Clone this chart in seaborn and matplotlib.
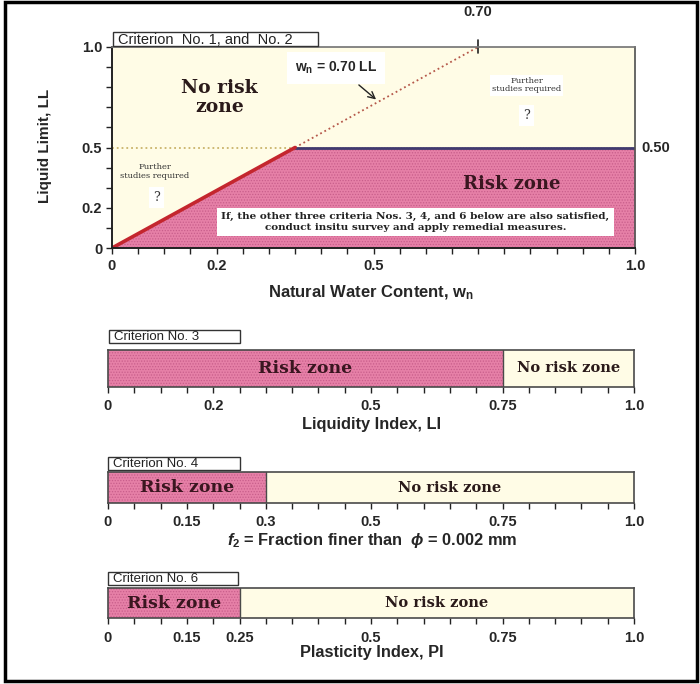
import matplotlib
matplotlib.use('Agg')
import matplotlib.pyplot as plt
from matplotlib.patches import Rectangle
from matplotlib.ticker import MultipleLocator
import seaborn as sns

sns.set_theme(style='white')
plt.rcParams['font.family'] = ['Liberation Sans', 'DejaVu Sans']
plt.rcParams['mathtext.fontset'] = 'custom'
plt.rcParams['mathtext.rm'] = 'Liberation Sans:bold'
plt.rcParams['mathtext.bf'] = 'Liberation Sans:bold'
plt.rcParams['mathtext.it'] = 'Liberation Sans:italic:bold'
plt.rcParams['hatch.linewidth'] = 0.6

### Data
# criterion 1 and 2 : LL vs wn
wn_slope = [0, 0.35]        # wn = 0.70 LL, up to LL = 0.5
ll_slope = [0, 0.5]
wn_flat = [0.35, 1.0]
ll_flat = [0.5, 0.5]
wn_ext = [0.35, 0.70]       # dotted continuation of wn = 0.70 LL
ll_ext = [0.5, 1.0]
wn_half = [0, 0.35]         # dotted LL = 0.5 on the left
ll_half = [0.5, 0.5]
top_xticks = [0, 0.2, 0.5, 1.0]
top_xlabels = ['0', '0.2', '0.5', '1.0']
top_yticks = [0, 0.2, 0.5, 1.0]
top_ylabels = ['0', '0.2', '0.5', '1.0']

# criteria 3, 4, 6 : one bar each
crit_names = ['Criterion No. 3', 'Criterion No. 4', 'Criterion No. 6']
crit_limits = [0.75, 0.30, 0.25]
crit_xlabels = ['Liquidity Index, LI',
                r'$f_2$ = Fraction finer than  $\phi$ = 0.002 mm',
                'Plasticity Index, PI']
crit_ticks = [[0, 0.2, 0.5, 0.75, 1.0],
              [0, 0.15, 0.3, 0.5, 0.75, 1.0],
              [0, 0.15, 0.25, 0.5, 0.75, 1.0]]
crit_ticklabels = [['0', '0.2', '0.5', '0.75', '1.0'],
                   ['0', '0.15', '0.3', '0.5', '0.75', '1.0'],
                   ['0', '0.15', '0.25', '0.5', '0.75', '1.0']]

pink = '#e680a7'
dots = '#c85e8b'
cream = '#fffce6'
edge = '#4a4a4a'
serif = ['DejaVu Serif', 'Liberation Serif']

W, H = 700, 684
def fx(px):
    return px / W
def fy(py):
    return 1 - py / H

fig = plt.figure(figsize=(7, 6.84), dpi=100)
fig.patch.set_facecolor('white')

#%% top chart
ax = fig.add_axes([fx(112), fy(248), fx(635) - fx(112), fy(47) - fy(248)])
ax.set_facecolor(cream)
risk_x = wn_slope + wn_flat[1:]
risk_y = ll_slope + ll_flat[1:]
ax.fill_between(risk_x, risk_y, 0, facecolor=pink, linewidth=0)
ax.fill_between(risk_x, risk_y, 0, facecolor='none', edgecolor=dots, hatch='......', linewidth=0)
sns.lineplot(x=wn_half, y=ll_half, color='#c9b36a', linestyle=':', linewidth=1.3, ax=ax)
sns.lineplot(x=wn_ext, y=ll_ext, color='#b5584a', linestyle=':', linewidth=1.3, ax=ax)
sns.lineplot(x=wn_flat, y=ll_flat, color='#3f3a6e', linewidth=2, ax=ax)
sns.lineplot(x=wn_slope, y=ll_slope, color='#c4262e', linewidth=2.6, ax=ax)
ax.set_xlim(0, 1)
ax.set_ylim(0, 1)
ax.set_xticks(top_xticks)
ax.set_xticklabels(top_xlabels)
ax.set_yticks(top_yticks)
ax.set_yticklabels(top_ylabels)
ax.xaxis.set_minor_locator(MultipleLocator(0.05))
ax.yaxis.set_minor_locator(MultipleLocator(0.1))
ax.tick_params(which='both', bottom=True, left=True, direction='out', length=4, width=1, color='#222')
ax.tick_params(axis='x', pad=4)
ax.tick_params(axis='y', pad=3)
for lab in ax.get_xticklabels() + ax.get_yticklabels():
    lab.set_fontsize(10.5)
    lab.set_fontweight('bold')
for s in ['left', 'bottom']:
    ax.spines[s].set_color('#222')
    ax.spines[s].set_linewidth(1.4)
ax.spines['top'].set_color('#777')
ax.spines['right'].set_color('#555')
ax.set_xlabel('')
ax.set_ylabel('')

# 0.70 mark on the top
ax.plot([0.70, 0.70], [0.97, 1.035], color='#222', lw=1.2, clip_on=False)
ax.text(0.70, 1.175, '0.70', ha='center', va='center', fontsize=10.5, fontweight='bold')
ax.text(1.012, 0.5, '0.50', ha='left', va='center', fontsize=10.5, fontweight='bold')

ax.text(0.206, 0.75, 'No risk\nzone', ha='center', va='center', fontsize=13.5, fontweight='bold',
        family=serif, color='#2a1a1a', linespacing=1.1)
ax.text(0.765, 0.32, 'Risk zone', ha='center', va='center', fontsize=13, fontweight='bold',
        family=serif, color='#3a1620')
ax.text(0.082, 0.38, 'Further\nstudies required', ha='center', va='center', fontsize=6,
        family=serif, color='#333', linespacing=1.1)
ax.text(0.085, 0.25, '?', ha='center', va='center', fontsize=9, family=serif, color='#333',
        bbox=dict(facecolor='white', edgecolor='none', pad=3))
ax.text(0.793, 0.81, 'Further\nstudies required', ha='center', va='center', fontsize=6,
        family=serif, color='#333', linespacing=1.1,
        bbox=dict(facecolor='white', edgecolor='none', pad=1.5))
ax.text(0.793, 0.66, '?', ha='center', va='center', fontsize=9, family=serif, color='#333',
        bbox=dict(facecolor='white', edgecolor='none', pad=3))
ax.text(0.428, 0.895, r'$\mathrm{w}_\mathrm{n}$ = 0.70 LL', ha='center', va='center',
        fontsize=10, fontweight='bold',
        bbox=dict(boxstyle='square,pad=0.55', facecolor='white', edgecolor='none'))
ax.annotate('', xy=(0.509, 0.73), xytext=(0.468, 0.82),
            arrowprops=dict(arrowstyle='->', color='#222', lw=1))
ax.text(0.58, 0.13, 'If, the other three criteria Nos. 3, 4, and 6 below are also satisfied,\n'
        'conduct insitu survey and apply remedial measures.', ha='center', va='center',
        fontsize=7.5, fontweight='bold', family=serif, color='#222', linespacing=1.3,
        bbox=dict(boxstyle='square,pad=0.4', facecolor='white', edgecolor='none'))

fig.text(fx(371), fy(293), r'Natural Water Content, $\mathrm{w}_\mathrm{n}$', ha='center',
         va='center', fontsize=12, fontweight='bold')
fig.text(fx(45), fy(146), 'Liquid Limit, LL', ha='center', va='center', rotation=90,
         fontsize=11, fontweight='bold')

#%% bars for criteria 3, 4, 6
bar_rows = [(350, 387), (472, 503), (588, 618)]
label_rows = [424, 540, 653]
for i, name in enumerate(crit_names):
    top, bot = bar_rows[i]
    bx = fig.add_axes([fx(108), fy(bot), fx(634) - fx(108), fy(top) - fy(bot)])
    sns.barplot(x=[1.0], y=[name], orient='h', color=cream, width=1, saturation=1,
                linewidth=0, ax=bx)
    sns.barplot(x=[crit_limits[i]], y=[name], orient='h', color=pink, width=1, saturation=1,
                linewidth=0, ax=bx)
    bx.barh(0, crit_limits[i], height=1, facecolor='none', edgecolor=dots, hatch='......',
            linewidth=0)
    bx.axvline(crit_limits[i], color=edge, lw=1)
    bx.set_xlim(0, 1)
    bx.set_ylim(0.5, -0.5)
    bx.set_yticks([])
    bx.set_xticks(crit_ticks[i])
    bx.set_xticklabels(crit_ticklabels[i])
    bx.xaxis.set_minor_locator(MultipleLocator(0.05))
    bx.tick_params(which='both', bottom=True, direction='out', length=4, width=1, color='#222')
    bx.tick_params(axis='x', pad=5)
    for lab in bx.get_xticklabels():
        lab.set_fontsize(10.5)
        lab.set_fontweight('bold')
    for s in bx.spines.values():
        s.set_color(edge)
        s.set_linewidth(1.2)
    bx.set_xlabel('')
    bx.set_ylabel('')
    bx.text(crit_limits[i] / 2, 0, 'Risk zone', ha='center', va='center', fontsize=12.5,
            fontweight='bold', family=serif, color='#3a1620')
    bx.text((1 + crit_limits[i]) / 2, 0, 'No risk zone', ha='center', va='center', fontsize=10.5,
            fontweight='bold', family=serif, color='#2a1a1a')
    fig.text(fx(372), fy(label_rows[i]), crit_xlabels[i], ha='center', va='center',
             fontsize=11.8, fontweight='bold')

# criterion tag boxes
tags = ['Criterion  No. 1, and  No. 2'] + crit_names
tag_sizes = [10.5, 9.5, 9.5, 9.5]
tag_boxes = [(113, 318, 32, 46), (109, 240, 330, 343), (108, 240, 457, 470), (108, 238, 572, 585)]
for tag, size, (x0, x1, y0, y1) in zip(tags, tag_sizes, tag_boxes):
    fig.add_artist(Rectangle((fx(x0), fy(y1)), fx(x1) - fx(x0), fy(y0) - fy(y1),
                             transform=fig.transFigure, facecolor='white',
                             edgecolor='#333', lw=1))
    fig.text(fx(x0 + 5), fy((y0 + y1) / 2 + 0.5), tag, ha='left', va='center', fontsize=size,
             color='#222')

# outer frame
fig.add_artist(Rectangle((fx(5), fy(681)), fx(697) - fx(5), fy(1.5) - fy(681),
                         transform=fig.transFigure, fill=False, edgecolor='black', lw=2.5))

fig.savefig('out.png', dpi=100)
